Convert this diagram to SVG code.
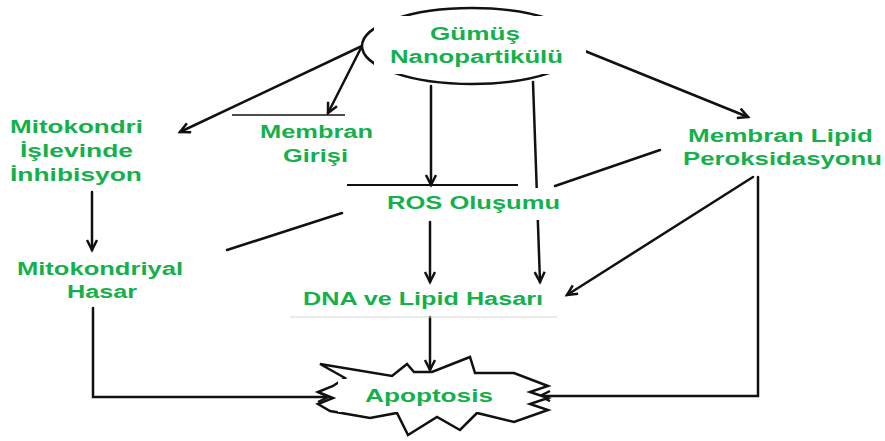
<svg xmlns="http://www.w3.org/2000/svg" width="885" height="441" viewBox="0 0 885 441">
<style>
.t{font-family:"Liberation Sans",Arial,sans-serif;font-weight:bold;font-size:18px;fill:#14b04c;}
.c{fill:none;stroke:#111;stroke-width:2.5;stroke-linecap:round;}
.a{marker-end:url(#ah);}
.bg{fill:#fff;stroke:none;}
</style>
<defs>
<marker id="ah" markerUnits="userSpaceOnUse" markerWidth="14" markerHeight="14" refX="11" refY="6" orient="auto">
<path d="M1,1 L11,6 L1,11" fill="none" stroke="#111" stroke-width="2.5" stroke-linejoin="miter"/>
</marker>
</defs>
<g id="connectors">
<line class="c a" x1="362" y1="46" x2="180" y2="132"/>
<line class="c a" x1="362" y1="46" x2="328" y2="113"/>
<line class="c a" x1="431" y1="86" x2="431" y2="185"/>
<line class="c a" x1="533" y1="82" x2="540" y2="282"/>
<line class="c a" x1="580" y1="49" x2="748" y2="117"/>
<line class="c a" x1="92" y1="192" x2="92" y2="250"/>
<line class="c" x1="227" y1="250" x2="342" y2="213"/>
<line class="c" x1="555" y1="186" x2="660" y2="150"/>
<line class="c a" x1="753" y1="177" x2="567" y2="295"/>
<polyline class="c a" points="758,177 758,396 540,396"/>
<polyline class="c a" points="93,308 93,397 328,397"/>
<line class="c a" x1="430" y1="222" x2="430" y2="282"/>
<line class="c a" x1="430" y1="317" x2="430" y2="370"/>
</g>
<g id="n-nano">
<ellipse cx="472" cy="46" rx="110" ry="38" fill="#fff" stroke="#111" stroke-width="2.5"/>
<rect class="bg" x="374" y="16" width="212" height="58"/>
<text class="t" x="430" y="40" textLength="90" lengthAdjust="spacingAndGlyphs">Gümüş</text>
<text class="t" x="390" y="63" textLength="173" lengthAdjust="spacingAndGlyphs">Nanopartikülü</text>
</g>
<g id="n-mito-inh">
<text class="t" x="10" y="133" textLength="133" lengthAdjust="spacingAndGlyphs">Mitokondri</text>
<text class="t" x="20" y="157" textLength="113" lengthAdjust="spacingAndGlyphs">İşlevinde</text>
<text class="t" x="10" y="181" textLength="132" lengthAdjust="spacingAndGlyphs">İnhibisyon</text>
</g>
<g id="n-membran">
<line x1="232" y1="115" x2="345" y2="115" stroke="#111" stroke-width="1.5"/>
<text class="t" x="260" y="138" textLength="113" lengthAdjust="spacingAndGlyphs">Membran</text>
<text class="t" x="283" y="162" textLength="65" lengthAdjust="spacingAndGlyphs">Girişi</text>
</g>
<g id="n-ros">
<rect class="bg" x="345" y="188" width="210" height="32"/>
<line x1="347" y1="185" x2="518" y2="185" stroke="#111" stroke-width="2"/>
<text class="t" x="387" y="209" textLength="173" lengthAdjust="spacingAndGlyphs">ROS Oluşumu</text>
</g>
<g id="n-lipid">
<text class="t" x="688" y="142" textLength="185" lengthAdjust="spacingAndGlyphs">Membran Lipid</text>
<text class="t" x="683" y="165" textLength="199" lengthAdjust="spacingAndGlyphs">Peroksidasyonu</text>
</g>
<g id="n-mito-hasar">
<text class="t" x="17" y="275" textLength="166" lengthAdjust="spacingAndGlyphs">Mitokondriyal</text>
<text class="t" x="67" y="298" textLength="70" lengthAdjust="spacingAndGlyphs">Hasar</text>
</g>
<g id="n-dna">
<line x1="290" y1="317" x2="557" y2="317" stroke="#d6d6d6" stroke-width="1"/>
<text class="t" x="303" y="305" textLength="240" lengthAdjust="spacingAndGlyphs">DNA ve Lipid Hasarı</text>
</g>
<g id="n-apoptosis">
<polygon points="320,364 392,376 407,364 414,372 432,372 470,357 475,373 514,373 548,386 530,392 548,398 530,404 548,410 514,422 477,413 460,430 437,417 408,435 397,413 370,418 330,411 318,404 333,398 318,392 333,386 345,378" fill="#fff" stroke="#111" stroke-width="2.5" stroke-linejoin="miter"/>
<rect class="bg" x="338" y="379" width="184" height="33"/>
<text class="t" x="365" y="402" textLength="128" lengthAdjust="spacingAndGlyphs">Apoptosis</text>
</g>
</svg>
